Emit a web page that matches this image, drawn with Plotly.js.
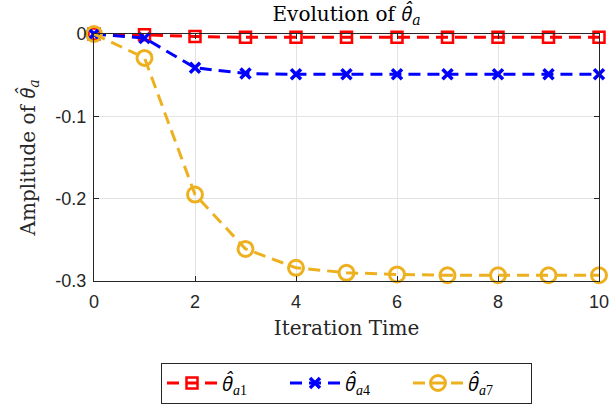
<!DOCTYPE html>
<html>
<head>
<meta charset="utf-8">
<script src="https://cdn.plot.ly/plotly-3.0.1.min.js"></script>
<style>html,body{margin:0;padding:0;background:#fff;}#chart{width:612px;height:408px;}</style>
</head>
<body>
<div id="chart"></div>
<script>
const iterations = [0, 1, 2, 3, 4, 5, 6, 7, 8, 9, 10];
const thetaA1 = [0, -0.001, -0.003, -0.004, -0.004, -0.004, -0.004, -0.004, -0.004, -0.004, -0.004];
const thetaA4 = [0, -0.005, -0.041, -0.048, -0.049, -0.049, -0.049, -0.049, -0.049, -0.049, -0.049];
const thetaA7 = [0, -0.029, -0.195, -0.261, -0.284, -0.290, -0.292, -0.293, -0.293, -0.293, -0.293];
const TH = '<span style="font-family:Open Sans">θ̂</span>';
const seriesNames = ['<i>' + TH + '</i><sub><i>a</i>1</sub>', '<i>' + TH + '</i><sub><i>a</i>4</sub>', '<i>' + TH + '</i><sub><i>a</i>7</sub>'];
const xTickVals = [0, 2, 4, 6, 8, 10];
const xTickText = ['0', '2', '4', '6', '8', '10'];
const yTickVals = [0, -0.1, -0.2, -0.3];
const yTickText = ['0', '-0.1', '-0.2', '-0.3'];

const dash = '12px,7px';
const traces = [
  {x: iterations, y: thetaA1, name: seriesNames[0], mode: 'lines+markers', cliponaxis: false,
   line: {color: '#FF0000', width: 3, dash: dash},
   marker: {symbol: 'square-open', size: 11, color: '#FF0000', line: {width: 2.5, color: '#FF0000'}}},
  {x: iterations, y: thetaA4, name: seriesNames[1], mode: 'lines+markers', cliponaxis: false,
   line: {color: '#0000FF', width: 3, dash: dash},
   marker: {symbol: 'x-thin-open', size: 10, color: '#0000FF', line: {width: 3.5, color: '#0000FF'}}},
  {x: iterations, y: thetaA7, name: seriesNames[2], mode: 'lines+markers', cliponaxis: false,
   line: {color: '#EDB120', width: 3, dash: dash},
   marker: {symbol: 'circle-open', size: 15, color: '#EDB120', line: {width: 3, color: '#EDB120'}}}
];

const axisCommon = {
  showline: true, linecolor: '#262626', linewidth: 1, mirror: 'ticks',
  ticks: 'inside', ticklen: 5, tickcolor: '#262626', automargin: false,
  showgrid: true, gridcolor: '#E3E3E3', gridwidth: 1, zeroline: false,
  tickfont: {family: 'Liberation Sans, Arial, sans-serif', size: 18, color: '#262626'}
};
const serif = 'DejaVu Serif, Liberation Serif, serif';

const layout = {
  width: 612, height: 408,
  margin: {l: 94, r: 13, t: 34, b: 127, autoexpand: false},
  paper_bgcolor: '#FFFFFF', plot_bgcolor: '#FFFFFF',
  title: {text: 'Evolution of <i>' + TH + '</i><sub><i>a</i></sub>', xref: 'paper', x: 0.5, xanchor: 'center',
          yref: 'container', y: 0.966, yanchor: 'middle',
          font: {family: serif, size: 20, color: '#000'}},
  xaxis: Object.assign({}, axisCommon, {
    range: [0, 10], tickvals: xTickVals, ticktext: xTickText, ticklabelstandoff: 4,
    title: {text: 'Iteration Time', standoff: 10, font: {family: serif, size: 20, color: '#262626'}}
  }),
  yaxis: Object.assign({}, axisCommon, {
    range: [-0.3, 0], tickvals: yTickVals, ticktext: yTickText, ticklabelstandoff: 3,
    title: {text: 'Amplitude of <i>' + TH + '</i><sub><i>a</i></sub>', standoff: 14, font: {family: serif, size: 20, color: '#262626'}}
  }),
  showlegend: true,
  legend: {orientation: 'h', x: 0.5, xanchor: 'center', y: -0.33, yanchor: 'top',
           bordercolor: '#262626', borderwidth: 1, bgcolor: '#FFFFFF',
           font: {family: 'Liberation Serif, serif', size: 20, color: '#000'},
           itemwidth: 50, entrywidth: 58, entrywidthmode: 'pixels', traceorder: 'normal'}
};

Plotly.newPlot('chart', traces, layout, {displayModeBar: false, staticPlot: true});
</script>
</body>
</html>
